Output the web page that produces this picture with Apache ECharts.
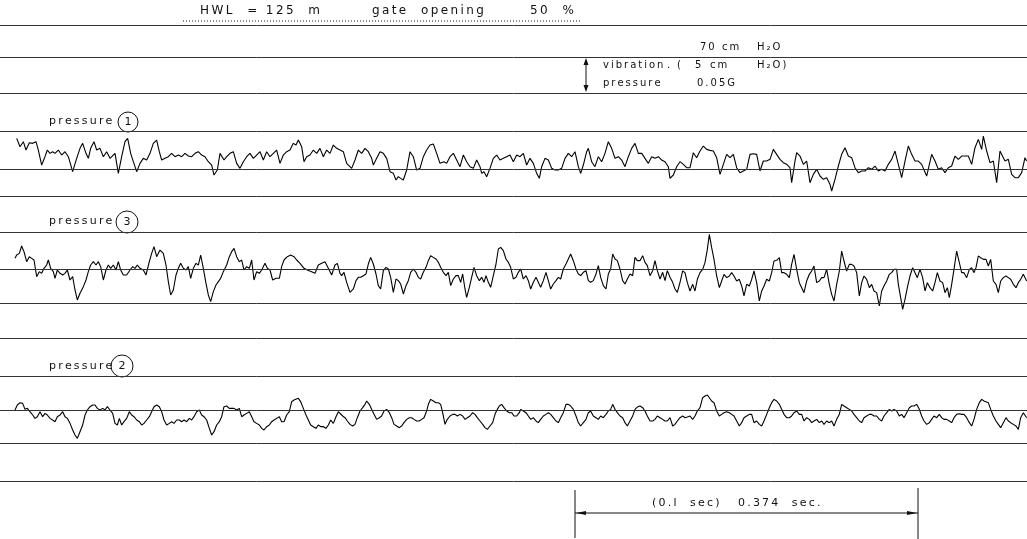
<!DOCTYPE html>
<html><head><meta charset="utf-8">
<script src="https://cdn.jsdelivr.net/npm/echarts@6/dist/echarts.min.js"></script>
<style>html,body{margin:0;padding:0;background:#fff}#c{width:1027px;height:539px}</style>
</head><body><div id="c"></div>
<script>
// Record position t (1/3 px of the record) and trace deflection (same units, + = up)
const pressure1 = [[50,93],[60,68],[70,83],[78,58],[88,80],[98,78],[108,83],[115,58],[125,13],[135,38],[142,58],[150,48],[158,53],[165,48],[175,58],[185,43],[195,53],[205,38],[218,-7],[230,33],[240,63],[248,78],[258,48],[265,33],[272,63],[282,83],[290,58],[300,63],[310,38],[320,53],[330,33],[345,48],[355,-12],[365,38],[375,83],[383,93],[392,48],[400,23],[410,-7],[420,18],[430,33],[440,28],[450,48],[460,78],[470,88],[478,53],[485,28],[495,33],[505,38],[515,48],[525,38],[535,43],[545,38],[555,48],[565,40],[575,38],[585,48],[595,53],[605,43],[615,38],[625,23],[635,13],[642,-17],[652,-2],[660,48],[672,28],[680,38],[690,48],[700,53],[710,18],[720,3],[730,23],[740,38],[750,48],[760,33],[770,43],[780,53],[790,28],[800,53],[810,38],[820,48],[830,58],[840,18],[850,43],[860,53],[870,58],[880,78],[888,73],[895,88],[905,68],[912,23],[920,38],[930,43],[940,58],[950,48],[960,63],[970,38],[980,58],[990,48],[1000,73],[1010,63],[1020,58],
[1030,53],[1040,18],[1055,3],[1065,28],[1075,58],[1085,48],[1095,63],[1105,53],[1115,33],[1120,13],[1130,33],[1140,53],[1150,48],[1160,33],[1170,-7],[1180,-12],[1188,-32],[1195,-22],[1202,-27],[1210,-32],[1220,-2],[1230,53],[1240,38],[1250,-2],[1260,3],[1270,38],[1280,58],[1290,73],[1300,76],[1310,48],[1320,18],[1325,13],[1332,23],[1340,18],[1350,38],[1360,48],[1370,28],[1380,8],[1390,43],[1400,23],[1410,8],[1420,3],[1430,28],[1440,8],[1445,-12],[1452,-7],[1460,-22],[1470,3],[1480,33],[1490,43],[1500,28],[1510,33],[1520,38],[1530,43],[1540,23],[1550,43],[1560,38],[1570,48],[1580,13],[1590,33],[1600,18],[1610,-12],[1618,-27],[1625,8],[1635,33],[1645,28],[1655,3],[1665,-2],[1675,-2],[1685,3],[1695,33],[1705,48],[1715,38],[1725,53],[1735,8],[1742,-12],[1750,13],[1760,53],[1765,63],[1775,23],[1785,8],[1795,38],[1805,23],[1815,48],[1825,83],[1835,63],[1845,33],[1855,38],[1865,28],[1875,8],[1885,38],[1895,63],[1905,78],[1915,48],[1925,48],[1935,33],[1945,18],[1955,38],[1965,33],[1975,38],[1985,28],[1995,23],[2005,8],[2010,-27],[2020,-17],[2030,8],[2040,23],
[2050,15],[2060,5],[2070,5],[2080,50],[2090,35],[2100,55],[2110,70],[2120,60],[2130,57],[2140,55],[2150,35],[2160,-15],[2170,15],[2180,45],[2190,35],[2200,45],[2210,5],[2220,-10],[2230,-5],[2240,0],[2250,45],[2260,47],[2270,45],[2280,-5],[2290,25],[2300,25],[2310,30],[2320,60],[2330,45],[2340,30],[2350,20],[2360,15],[2370,5],[2375,-40],[2385,25],[2390,50],[2400,40],[2410,15],[2415,20],[2420,25],[2430,-40],[2440,-15],[2450,0],[2460,-20],[2470,-30],[2480,-25],[2490,-45],[2495,-65],[2505,-30],[2515,10],[2525,45],[2535,65],[2545,40],[2555,35],[2565,5],[2575,-10],[2585,-5],[2595,-5],[2605,5],[2615,0],[2625,10],[2635,-5],[2645,0],[2655,-5],[2665,15],[2675,30],[2685,55],[2695,15],[2705,-25],[2715,25],[2725,70],[2735,45],[2745,25],[2755,25],[2765,15],[2780,-20],[2795,45],[2805,25],[2815,0],[2825,5],[2835,-10],[2845,5],[2855,10],[2865,40],[2875,30],[2885,40],[2895,40],[2905,40],[2915,15],[2925,65],[2935,90],[2945,60],[2950,100],[2960,55],[2970,20],[2980,25],[2990,-40],[3000,55],[3010,35],[3015,25],[3025,30],[3035,-15],[3045,-25],[3055,-25],[3065,-10],[3075,35],[3080,25]];

const pressure3 = [[45,32],[50,42],[58,47],[65,69],[72,52],[80,22],[88,37],[95,32],[102,27],[110,-23],[118,-8],[125,-13],[132,2],[140,12],[145,27],[152,2],[160,-8],[165,-28],[172,-3],[180,-13],[188,-18],[195,-13],[202,-3],[210,-33],[218,-23],[225,-63],[232,-93],[240,-73],[250,-53],[258,-33],[265,-8],[272,12],[280,22],[288,12],[295,22],[302,7],[310,-33],[318,-3],[325,12],[332,2],[340,12],[348,-3],[355,22],[362,-3],[370,-18],[380,-18],[390,-3],[398,7],[405,2],[412,12],[420,2],[430,-3],[438,-18],[448,22],[455,47],[462,67],[470,37],[480,57],[490,47],[498,12],[505,-38],[512,-78],[520,-63],[528,-18],[535,2],[542,17],[550,2],[558,-3],[565,7],[572,-28],[580,2],[588,17],[595,12],[602,42],[610,2],[618,-43],[625,-78],[632,-98],[640,-68],[648,-48],[655,-38],[662,-28],[670,-8],[680,12],[688,37],[695,52],[702,62],[710,37],[718,22],[725,27],[732,-3],[740,7],[748,2],[755,27],[762,-33],[770,-8],[778,-13],[785,-3],[795,17],[802,2],[810,-3],[818,-33],[828,-28],[838,-28],[845,7],[852,27],[862,37],[872,42],[882,37],[890,27],[900,17],[912,2],[922,-3],[935,-8],[945,-13],[955,12],[965,17],[975,22],[985,2],[995,-18],[1005,12],[1012,17],[1020,-13],
[1025,-20],[1032,-10],[1040,-40],[1050,-70],[1060,-60],[1068,-35],[1075,-25],[1082,-25],[1090,-20],[1098,-15],[1105,15],[1112,35],[1120,15],[1128,-15],[1135,-50],[1142,-60],[1150,-5],[1158,5],[1165,0],[1172,-25],[1180,-70],[1188,-30],[1195,-35],[1202,-45],[1210,-75],[1218,-50],[1225,-35],[1232,-10],[1240,0],[1248,-10],[1255,-25],[1262,-30],[1270,-10],[1278,5],[1285,25],[1292,40],[1300,35],[1308,30],[1315,20],[1322,5],[1330,-10],[1338,-20],[1345,-10],[1352,-50],[1360,-30],[1368,-20],[1375,-20],[1382,-40],[1388,-15],[1395,-60],[1400,-85],[1408,-55],[1415,-25],[1422,5],[1430,-20],[1438,-35],[1445,-25],[1452,-40],[1458,-20],[1465,-40],[1472,-55],[1480,-20],[1488,15],[1495,60],[1502,65],[1510,55],[1518,30],[1525,20],[1532,5],[1540,-30],[1548,-25],[1555,-10],[1562,0],[1570,-30],[1578,-20],[1585,-35],[1592,-60],[1600,-40],[1608,-25],[1615,-40],[1622,-55],[1630,-35],[1638,-10],[1645,-35],[1652,-60],[1660,-45],[1668,-35],[1675,-25],[1682,-30],[1690,0],[1698,15],[1705,30],[1712,45],[1720,25],[1728,0],[1735,-15],[1742,-20],[1750,-10],[1758,-5],[1765,-35],[1772,-40],[1780,-35],[1788,-15],[1795,10],[1802,-25],[1810,-50],[1818,-60],[1825,-15],[1832,0],[1838,45],[1845,30],[1852,25],[1860,0],[1868,-35],[1875,-45],[1882,-30],[1890,-15],[1898,-20],[1905,35],[1912,25],[1920,25],[1928,40],[1935,20],[1942,10],[1950,-20],[1958,-5],[1965,25],[1972,-5],[1980,-30],[1988,-10],[1995,-35],[2002,-5],[2010,-25],[2018,-40],[2025,-60],[2032,-70],[2040,-40],
[2048,-6],[2055,-11],[2062,-41],[2070,-66],[2078,-46],[2085,-66],[2092,-31],[2100,-11],[2108,-1],[2115,19],[2122,59],[2128,104],[2135,64],[2142,29],[2150,-21],[2158,-56],[2165,-36],[2172,-16],[2180,-26],[2188,-21],[2195,-11],[2202,-21],[2210,-36],[2218,-31],[2225,-51],[2232,-81],[2240,-46],[2248,-51],[2255,-31],[2262,-6],[2270,-41],[2278,-96],[2285,-66],[2292,-51],[2300,-31],[2308,-36],[2315,-11],[2322,24],[2330,26],[2338,34],[2345,-11],[2352,-11],[2360,-16],[2368,-26],[2375,14],[2382,44],[2390,-1],[2398,-41],[2405,-56],[2412,-71],[2420,-36],[2428,-16],[2435,-6],[2442,9],[2450,-41],[2458,-36],[2465,-26],[2472,-26],[2480,-1],[2488,-46],[2495,-76],[2502,-96],[2510,-46],[2518,-6],[2525,54],[2532,24],[2540,-6],[2548,14],[2555,14],[2562,9],[2570,-11],[2578,-81],[2585,-41],[2592,-21],[2600,-31],[2608,-56],[2615,-46],[2622,-66],[2630,-71],[2638,-111],[2645,-66],[2652,-51],[2660,-36],[2668,-16],[2675,-11],[2682,-1],[2690,-1],[2695,-46],[2702,-86],[2708,-121],[2715,-91],[2722,-56],[2730,-21],[2738,4],[2745,-11],[2752,-26],[2760,-1],[2768,-26],[2775,-66],[2782,-41],[2790,-56],[2798,-66],[2805,-41],[2812,-11],[2820,-36],[2828,-41],[2835,-71],[2842,-56],[2848,-86],[2855,-46],[2862,-1],[2870,54],[2878,19],[2885,-11],[2892,-11],[2900,-26],[2908,-1],[2915,4],[2922,-11],[2928,4],[2935,39],[2942,34],[2950,29],[2958,29],[2965,9],[2972,29],[2980,-36],[2988,-46],[2995,-71],[3002,-36],[3010,-26],[3018,-21],[3025,-26],[3032,-31],[3040,-46],[3048,-56],[3055,-41],[3062,-31],[3070,-16],[3080,-36]];

const pressure2 = [[45,0],[52,15],[60,22],[68,20],[75,2],[82,5],[90,-5],[98,-15],[105,-25],[112,-20],[120,-5],[128,-20],[135,-10],[142,-15],[150,-25],[158,-30],[165,-35],[172,-20],[180,-15],[188,-5],[195,-20],[202,-25],[210,-40],[218,-60],[225,-75],[232,-85],[240,-65],[248,-45],[255,-15],[262,0],[270,10],[278,15],[285,15],[292,5],[300,0],[308,5],[315,0],[322,10],[330,0],[338,-10],[345,-40],[352,-45],[358,-25],[365,-45],[372,-35],[380,-25],[388,-5],[395,-15],[402,-20],[410,-30],[418,-35],[425,-45],[432,-40],[440,-30],[448,-20],[455,-5],[462,10],[470,15],[478,10],[485,-5],[492,-30],[500,-45],[508,-40],[515,-35],[522,-40],[530,-30],[538,-30],[545,-35],[552,-30],[560,-35],[568,-25],[575,-30],[582,-20],[590,-5],[598,0],[605,-15],[612,-20],[620,-30],[628,-55],[635,-75],[642,-65],[650,-45],[658,-35],[665,-20],[672,10],[680,12],[688,5],[695,5],[702,5],[710,0],[718,5],[725,-20],[732,-15],[740,-10],[748,-5],[755,-20],[762,-35],[770,-40],[778,-45],[785,-55],[792,-60],[800,-50],[808,-45],[815,-35],[822,-30],[830,-25],[838,-20],[845,-35],[852,-35],[860,-15],[868,-5],[875,25],[882,30],[888,25],[895,35],[902,25],[910,5],[918,-15],[925,-30],[932,-45],[940,-50],[948,-55],[955,-45],[962,-50],[970,-50],[978,-55],[985,-45],[992,-30],[1000,-40],[1008,-20],[1015,-5],
[1020,-8],[1028,-18],[1035,-23],[1042,-33],[1050,-43],[1058,-48],[1065,-43],[1072,-23],[1080,-3],[1088,7],[1095,17],[1100,27],[1108,17],[1115,2],[1122,-13],[1130,-28],[1138,-23],[1145,-18],[1152,-3],[1160,2],[1168,-8],[1175,-23],[1182,-43],[1190,-48],[1198,-53],[1205,-48],[1212,-38],[1220,-28],[1228,-23],[1235,-23],[1242,-28],[1250,-33],[1258,-33],[1265,-28],[1272,-23],[1280,-3],[1285,17],[1292,32],[1300,27],[1308,22],[1315,22],[1322,17],[1328,-8],[1335,-43],[1342,-28],[1350,-18],[1358,-13],[1365,-13],[1372,-18],[1380,-13],[1388,-18],[1395,-28],[1402,-23],[1410,-18],[1418,-8],[1425,-13],[1432,-23],[1440,-33],[1448,-43],[1455,-53],[1462,-58],[1470,-48],[1478,-38],[1485,-13],[1492,2],[1498,12],[1505,17],[1512,7],[1520,-3],[1528,-8],[1535,-8],[1542,-18],[1550,-18],[1558,-8],[1562,2],[1570,-3],[1578,-8],[1585,-18],[1592,-28],[1600,-23],[1608,-33],[1615,-38],[1622,-28],[1630,-18],[1638,-13],[1645,-8],[1652,-13],[1660,-23],[1668,-33],[1675,-38],[1682,-23],[1690,-8],[1698,17],[1705,17],[1712,12],[1720,2],[1728,-18],[1735,-38],[1742,-48],[1750,-38],[1758,-28],[1765,-8],[1772,-3],[1780,-18],[1788,-23],[1795,-28],[1802,-18],[1810,-23],[1818,-13],[1825,-3],[1832,2],[1838,17],[1845,2],[1852,-8],[1860,-18],[1868,-23],[1875,-38],[1882,-48],[1890,-33],[1898,-18],[1905,2],[1912,9],[1920,12],[1928,7],[1935,-3],[1942,-18],[1950,-33],[1958,-33],[1965,-28],[1972,-18],[1980,-23],[1988,-28],[1995,-33],[2002,-33],[2010,-23],[2018,-48],[2025,-43],[2032,-33],
[2040,-23],[2048,-18],[2055,-23],[2062,-21],[2070,-18],[2078,-28],[2085,-18],[2092,-3],[2100,7],[2108,37],[2115,42],[2122,45],[2128,49],[2135,27],[2142,22],[2150,-3],[2158,-18],[2165,-13],[2172,-8],[2180,-5],[2188,-8],[2195,-13],[2202,-18],[2210,-33],[2218,-48],[2225,-38],[2232,-23],[2240,-18],[2248,-13],[2255,-13],[2262,-38],[2270,-33],[2278,-43],[2285,-48],[2292,-33],[2300,-13],[2308,7],[2315,22],[2322,32],[2330,27],[2338,17],[2345,2],[2352,-13],[2360,-23],[2368,-23],[2375,-18],[2382,-8],[2390,-3],[2398,-13],[2405,-13],[2412,-33],[2420,-23],[2428,-28],[2435,-38],[2442,-33],[2450,-28],[2458,-38],[2465,-33],[2472,-43],[2480,-33],[2488,-38],[2495,-33],[2502,-48],[2510,-28],[2518,-13],[2525,17],[2532,12],[2540,7],[2548,2],[2555,-3],[2562,-13],[2570,-23],[2578,-33],[2585,-38],[2592,-23],[2600,-18],[2608,-13],[2615,-13],[2622,-18],[2630,-18],[2638,-28],[2645,-33],[2652,-18],[2660,-8],[2668,2],[2675,-3],[2682,2],[2690,-3],[2698,-18],[2705,-13],[2712,-23],[2720,-8],[2728,7],[2735,12],[2742,12],[2750,17],[2758,2],[2765,-18],[2772,-33],[2780,-43],[2788,-38],[2795,-28],[2802,-18],[2810,-23],[2818,-13],[2825,-23],[2832,-28],[2840,-28],[2848,-33],[2855,-38],[2862,-23],[2870,-13],[2878,-11],[2885,-13],[2892,-13],[2900,-23],[2908,-38],[2915,-48],[2922,-28],[2930,2],[2938,22],[2945,32],[2952,27],[2958,22],[2965,22],[2972,2],[2980,-18],[2988,-33],[2995,-43],[3002,-53],[3010,-38],[3018,-23],[3025,-33],[3032,-38],[3040,-43],[3048,-48],[3055,-58],[3062,-23],[3070,-8],[3080,-23]];

// band limits (upper ruling, lower ruling) for each trace, in trace units
const bandP1 = [113, -80];
const bandP3 = [109, -103];
const bandP2 = [100, -99];
const recordLength = 3081;

// layout
const extraRulings = [25, 57, 93, 338, 481];
const ink = '#000', rule = '#333';
const FAM = '"DejaVu Sans"';

const chart = echarts.init(document.getElementById('c'), null, {renderer: 'canvas'});

function traceSeries(name, data, idx, band) {
  return {
    name, type: 'line', data, xAxisIndex: idx, yAxisIndex: idx,
    showSymbol: false, symbol: 'none', clip: false, animation: false,
    lineStyle: {color: ink, width: 1.1}, silent: true,
    markLine: {
      symbol: 'none', silent: true, animation: false, label: {show: false},
      lineStyle: {color: rule, width: 1, type: 'solid'},
      data: [{yAxis: band[0]}, {yAxis: 0}, {yAxis: band[1]}]
    }
  };
}

const grids = [
  {left: 0, right: 0, top: 0, height: 539},
  {left: 0, right: 0, top: 131.7, height: 64.3},
  {left: 0, right: 0, top: 232.7, height: 70.6},
  {left: 0, right: 0, top: 376.7, height: 66.3}
];
const bands = [null, bandP1, bandP3, bandP2];

const sp = s => s.split('').join('\u2009');
function txt(x, y, text, size, extra) {
  return {type: 'text', silent: true, style: Object.assign({x, y, text: sp(text), font: (size || 10) + 'px ' + FAM, fill: '#111', verticalAlign: 'middle'}, extra || {})};
}
function circled(cx, cy, r, d) {
  return [
    {type: 'circle', silent: true, shape: {cx, cy, r}, style: {fill: 'none', stroke: '#111', lineWidth: 1}},
    txt(cx, cy + 0.5, d, 11, {align: 'center'})
  ];
}
const L = (x1, y1, x2, y2, dash) => ({type: 'line', silent: true, shape: {x1, y1, x2, y2}, style: {stroke: '#111', lineWidth: 1, lineDash: dash || null}});
const P = (pts) => ({type: 'polygon', silent: true, shape: {points: pts}, style: {fill: '#111'}});

const graphic = [
  txt(200, 11, 'HWL  = 125  m', 12),
  txt(372, 11, 'gate  opening', 12),
  txt(530, 11, '50  %', 12),
  L(183, 21, 580, 21, [1, 2]),
  txt(700, 47, '70 cm'),
  txt(757, 47, 'H₂O'),
  txt(603, 65, 'vibration'),
  txt(667, 65, '.'),
  txt(677, 65, '('),
  txt(695, 65, '5'),
  txt(710, 65, 'cm'),
  txt(757, 65, 'H₂O)'),
  txt(603, 83, 'pressure'),
  txt(697, 83, '0.05G'),
  L(586, 60, 586, 90),
  P([[586, 58], [583.5, 65], [588.5, 65]]),
  P([[586, 92], [583.5, 85], [588.5, 85]]),
  txt(49, 121, 'pressure', 11),
  ...circled(128, 122, 10, '1'),
  txt(49, 221, 'pressure', 11),
  ...circled(127, 222, 11, '3'),
  txt(49, 366, 'pressure', 11),
  ...circled(122, 366, 11, '2'),
  L(575, 490, 575, 538),
  L(918, 488, 918, 539),
  L(575, 513, 918, 513),
  P([[576, 513], [586, 511], [586, 515]]),
  P([[917, 513], [907, 511], [907, 515]]),
  txt(652, 503, '(0.l  sec)', 11),
  txt(738, 503, '0.374  sec.', 11)
];

chart.setOption({
  animation: false,
  backgroundColor: '#fff',
  grid: grids,
  xAxis: grids.map((g, i) => ({type: 'value', gridIndex: i, min: 0, max: i === 0 ? 1 : recordLength, show: false})),
  yAxis: grids.map((g, i) => i === 0
    ? {type: 'value', gridIndex: 0, min: 0, max: 539, inverse: true, show: false}
    : {type: 'value', gridIndex: i, min: bands[i][1], max: bands[i][0], show: false}),
  series: [
    {type: 'line', xAxisIndex: 0, yAxisIndex: 0, data: [], silent: true,
     markLine: {symbol: 'none', silent: true, animation: false, label: {show: false},
       lineStyle: {color: rule, width: 1, type: 'solid'},
       data: extraRulings.map(y => ({yAxis: y}))}},
    traceSeries('pressure 1', pressure1, 1, bandP1),
    traceSeries('pressure 3', pressure3, 2, bandP3),
    traceSeries('pressure 2', pressure2, 3, bandP2)
  ],
  graphic
});
</script></body></html>
